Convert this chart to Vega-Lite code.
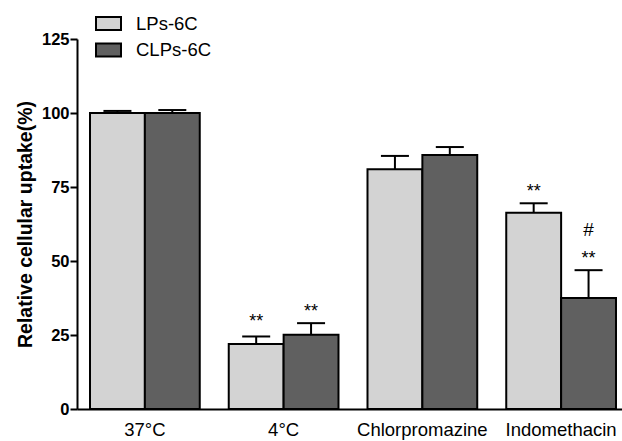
{
  "$schema": "https://vega.github.io/schema/vega-lite/v6.json",
  "width": 545,
  "height": 370,
  "autosize": {"type": "none"},
  "padding": {"left": 77, "top": 39, "right": 0, "bottom": 32},
  "background": "white",
  "datasets": {
    "bars": [
      {"group": "37°C", "series": "LPs-6C", "value": 100, "err": 100.7},
      {"group": "37°C", "series": "CLPs-6C", "value": 100, "err": 101},
      {"group": "4°C", "series": "LPs-6C", "value": 22, "err": 24.5},
      {"group": "4°C", "series": "CLPs-6C", "value": 25.1, "err": 29},
      {"group": "Chlorpromazine", "series": "LPs-6C", "value": 81, "err": 85.5},
      {"group": "Chlorpromazine", "series": "CLPs-6C", "value": 85.8, "err": 88.5},
      {"group": "Indomethacin", "series": "LPs-6C", "value": 66.3, "err": 69.5},
      {"group": "Indomethacin", "series": "CLPs-6C", "value": 37.5, "err": 46.9}
    ],
    "marks": [
      {"group": "4°C", "series": "LPs-6C", "label": "**", "pos": 31},
      {"group": "4°C", "series": "CLPs-6C", "label": "**", "pos": 34.5},
      {"group": "Indomethacin", "series": "LPs-6C", "label": "**", "pos": 75},
      {"group": "Indomethacin", "series": "CLPs-6C", "label": "**", "pos": 52.4},
      {"group": "Indomethacin", "series": "CLPs-6C", "label": "#", "pos": 60.5}
    ]
  },
  "encoding": {
    "x": {
      "field": "group",
      "type": "nominal",
      "sort": ["37°C", "4°C", "Chlorpromazine", "Indomethacin"],
      "scale": {"paddingInner": 0.209, "paddingOuter": 0.0685, "align": 0.684},
      "axis": {
        "title": null,
        "labelAngle": 0,
        "ticks": false,
        "labelPadding": 11,
        "labelFontSize": 18.5,
        "labelFont": "Liberation Sans",
        "labelColor": "black",
        "domainColor": "black",
        "domainWidth": 2
      }
    },
    "xOffset": {
      "field": "series",
      "type": "nominal",
      "sort": ["LPs-6C", "CLPs-6C"],
      "scale": {"paddingInner": 0, "paddingOuter": 0}
    }
  },
  "layer": [
    {
      "data": {"name": "bars"},
      "mark": {"type": "bar", "stroke": "black", "strokeWidth": 2},
      "encoding": {
        "y": {
          "field": "value",
          "type": "quantitative",
          "scale": {"domain": [0, 125], "nice": false},
          "axis": {
            "title": "Relative cellular uptake(%)",
            "values": [0, 25, 50, 75, 100, 125],
            "grid": false,
            "titleFont": "Liberation Sans",
            "titleFontSize": 19.5,
            "titleFontWeight": "bold",
            "titleColor": "black",
            "titlePadding": 6,
            "labelFont": "Liberation Sans",
            "labelFontSize": 16.5,
            "labelFontWeight": "bold",
            "labelColor": "black",
            "labelPadding": 1,
            "tickColor": "black",
            "tickWidth": 2,
            "tickSize": 7,
            "domainColor": "black",
            "domainWidth": 2
          }
        },
        "color": {
          "field": "series",
          "type": "nominal",
          "sort": ["LPs-6C", "CLPs-6C"],
          "scale": {"domain": ["LPs-6C", "CLPs-6C"], "range": ["#d3d3d3", "#606060"]},
          "legend": {
            "title": null,
            "orient": "none",
            "legendX": 18,
            "legendY": -29,
            "direction": "vertical",
            "padding": 0,
            "rowPadding": 2.5,
            "symbolType": "M-1,-0.52H1V0.52H-1Z",
            "symbolSize": 625,
            "symbolStrokeColor": "black",
            "symbolStrokeWidth": 2,
            "symbolOpacity": 1,
            "labelFont": "Liberation Sans",
            "labelFontSize": 18.5,
            "labelColor": "black",
            "labelOffset": 14
          }
        }
      }
    },
    {
      "data": {"name": "bars"},
      "mark": {"type": "rule", "color": "black", "strokeWidth": 2},
      "encoding": {
        "y": {"field": "value", "type": "quantitative"},
        "y2": {"field": "err"}
      }
    },
    {
      "data": {"name": "bars"},
      "mark": {"type": "tick", "orient": "horizontal", "color": "black", "size": 28, "thickness": 2, "opacity": 1},
      "encoding": {
        "y": {"field": "err", "type": "quantitative"}
      }
    },
    {
      "data": {"name": "marks"},
      "transform": [{"filter": "datum.label === '**'"}],
      "mark": {"type": "text", "font": "Liberation Sans", "fontSize": 18, "color": "black", "baseline": "middle", "dy": 5},
      "encoding": {
        "y": {"field": "pos", "type": "quantitative"},
        "text": {"field": "label"}
      }
    },
    {
      "data": {"name": "marks"},
      "transform": [{"filter": "datum.label === '#'"}],
      "mark": {"type": "text", "font": "Liberation Sans", "fontSize": 19, "color": "black", "baseline": "middle"},
      "encoding": {
        "y": {"field": "pos", "type": "quantitative"},
        "text": {"field": "label"}
      }
    }
  ],
  "config": {"view": {"stroke": null}}
}
